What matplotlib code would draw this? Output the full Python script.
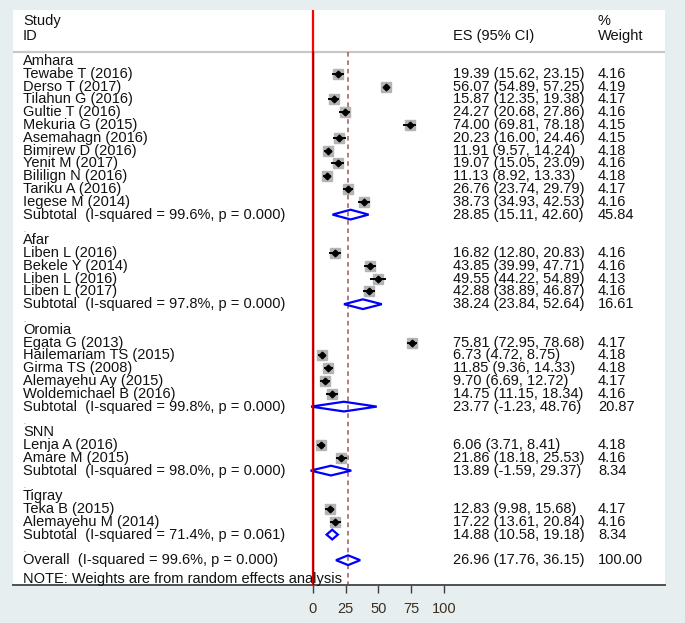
import matplotlib.pyplot as plt
from matplotlib.patches import Polygon

# ---- data ----
GROUPS = ["Amhara", "Afar", "Oromia", "SNN", "Tigray"]

STUDIES = [
    ["Tewabe T (2016)", "Derso T (2017)", "Tilahun G (2016)", "Gultie T (2016)",
     "Mekuria G (2015)", "Asemahagn (2016)", "Bimirew D (2016)", "Yenit M (2017)",
     "Bililign N (2016)", "Tariku A (2016)", "Iegese M (2014)"],
    ["Liben L (2016)", "Bekele Y (2014)", "Liben L (2016)", "Liben L (2017)"],
    ["Egata G (2013)", "Hailemariam TS (2015)", "Girma TS (2008)",
     "Alemayehu Ay (2015)", "Woldemichael B (2016)"],
    ["Lenja A (2016)", "Amare M (2015)"],
    ["Teka B (2015)", "Alemayehu M (2014)"],
]
ES = [
    [19.39, 56.07, 15.87, 24.27, 74.00, 20.23, 11.91, 19.07, 11.13, 26.76, 38.73],
    [16.82, 43.85, 49.55, 42.88],
    [75.81, 6.73, 11.85, 9.70, 14.75],
    [6.06, 21.86],
    [12.83, 17.22],
]
LOWER = [
    [15.62, 54.89, 12.35, 20.68, 69.81, 16.00, 9.57, 15.05, 8.92, 23.74, 34.93],
    [12.80, 39.99, 44.22, 38.89],
    [72.95, 4.72, 9.36, 6.69, 11.15],
    [3.71, 18.18],
    [9.98, 13.61],
]
UPPER = [
    [23.15, 57.25, 19.38, 27.86, 78.18, 24.46, 14.24, 23.09, 13.33, 29.79, 42.53],
    [20.83, 47.71, 54.89, 46.87],
    [78.68, 8.75, 14.33, 12.72, 18.34],
    [8.41, 25.53],
    [15.68, 20.84],
]
WEIGHTS = [
    [4.16, 4.19, 4.17, 4.16, 4.15, 4.15, 4.18, 4.16, 4.18, 4.17, 4.16],
    [4.16, 4.16, 4.13, 4.16],
    [4.17, 4.18, 4.18, 4.17, 4.16],
    [4.18, 4.16],
    [4.17, 4.16],
]

SUB_ES = [28.85, 38.24, 23.77, 13.89, 14.88]
SUB_LOWER = [15.11, 23.84, -1.23, -1.59, 10.58]
SUB_UPPER = [42.60, 52.64, 48.76, 29.37, 19.18]
SUB_WEIGHT = [45.84, 16.61, 20.87, 8.34, 8.34]
SUB_ISQ = [99.6, 97.8, 99.8, 98.0, 71.4]
SUB_P = [0.000, 0.000, 0.000, 0.000, 0.061]

OVERALL = (26.96, 17.76, 36.15, 100.00)
OVERALL_ISQ = 99.6
OVERALL_P = 0.000

XTICKS = [0, 25, 50, 75, 100]

# ---- layout (pixel geometry of the reference) ----
W, H = 685, 623
PANEL = (13, 10, 665, 585)          # left, top, right, bottom in pixels
X0_PX, PX_PER_UNIT = 312.7, 1.313    # position of x=0 and scale
ROW0_PX, ROW_PX = 61, 12.8           # first row and row spacing

BG = "#e6eef0"
FONT = "Liberation Sans"
FS = 10.5
DIAMOND_H = 0.38


def px_to_x(px):
    return (px - X0_PX) / PX_PER_UNIT


def px_to_row(py):
    return (py - ROW0_PX) / ROW_PX


def diamond(ax, row, es, lo, hi):
    pts = [(lo, row), (es, row - DIAMOND_H), (hi, row), (es, row + DIAMOND_H)]
    ax.add_patch(Polygon(pts, closed=True, fill=False, edgecolor="#0000ff",
                         linewidth=1.6, zorder=4))


def study_row(ax, row, es, lo, hi):
    ax.plot(es, row, marker="s", markersize=6.5, color="#b4b4b4", zorder=2)
    ax.plot([lo, hi], [row, row], color="black", linewidth=1.4, zorder=3)
    ax.plot(es, row, marker="D", markersize=3.4, color="black", zorder=3)


def main():
    plt.rcParams["font.family"] = [FONT, "DejaVu Sans"]
    fig = plt.figure(figsize=(W / 100, H / 100), dpi=100, facecolor=BG)
    l, t, r, b = PANEL
    ax = fig.add_axes([l / W, 1 - b / H, (r - l) / W, (b - t) / H])
    ax.set_facecolor("white")
    ax.set_xlim(px_to_x(l), px_to_x(r))
    ax.set_ylim(px_to_row(b), px_to_row(t))

    x_lab = px_to_x(23)
    x_es = px_to_x(453)
    x_wt = px_to_x(598)
    txt = dict(fontsize=FS, va="center", ha="left", color="#111111")

    # header
    ax.text(x_lab, px_to_row(21), "Study", **txt)
    ax.text(x_lab, px_to_row(36), "ID", **txt)
    ax.text(x_es, px_to_row(36), "ES (95% CI)", **txt)
    ax.text(x_wt, px_to_row(21), "%", **txt)
    ax.text(x_wt, px_to_row(36), "Weight", **txt)
    header_row = px_to_row(52)
    ax.axhline(header_row, color="#c8c8c8", linewidth=1.6, zorder=1)

    row = 0
    for g, name in enumerate(GROUPS):
        ax.text(x_lab, row, name, **txt)
        row += 1
        for i, study in enumerate(STUDIES[g]):
            es, lo, hi = ES[g][i], LOWER[g][i], UPPER[g][i]
            ax.text(x_lab, row, study, **txt)
            ax.text(x_es, row, f"{es:.2f} ({lo:.2f}, {hi:.2f})", **txt)
            ax.text(x_wt, row, f"{WEIGHTS[g][i]:.2f}", **txt)
            study_row(ax, row, es, lo, hi)
            row += 1
        ax.text(x_lab, row, f"Subtotal  (I-squared = {SUB_ISQ[g]:.1f}%, p = {SUB_P[g]:.3f})", **txt)
        ax.text(x_es, row, f"{SUB_ES[g]:.2f} ({SUB_LOWER[g]:.2f}, {SUB_UPPER[g]:.2f})", **txt)
        ax.text(x_wt, row, f"{SUB_WEIGHT[g]:.2f}", **txt)
        diamond(ax, row, SUB_ES[g], SUB_LOWER[g], SUB_UPPER[g])
        row += 1
        ax.text(x_lab, row + 0.25, ".", fontsize=5, ha="left", va="center", color="#555555")
        row += 1

    es, lo, hi, wt = OVERALL
    ax.text(x_lab, row, f"Overall  (I-squared = {OVERALL_ISQ:.1f}%, p = {OVERALL_P:.3f})", **txt)
    ax.text(x_es, row, f"{es:.2f} ({lo:.2f}, {hi:.2f})", **txt)
    ax.text(x_wt, row, f"{wt:.2f}", **txt)
    diamond(ax, row, es, lo, hi)
    ax.text(x_lab, row + 1.45, "NOTE: Weights are from random effects analysis", **txt)

    # reference lines
    ax.axvline(0, color="#ff0000", linewidth=1.6, zorder=5)
    ax.plot([0, 0], [header_row, px_to_row(b)], color="#6b0000", linewidth=1.0, zorder=6)
    ax.plot([es, es], [header_row, px_to_row(b)], color="#a0585a", linewidth=1.1,
            linestyle=(0, (3, 2.5)), zorder=1)

    # axes styling
    for side in ["top", "left", "right"]:
        ax.spines[side].set_visible(False)
    ax.spines["bottom"].set_color("#505050")
    ax.spines["bottom"].set_linewidth(1.4)
    ax.set_yticks([])
    ax.set_xticks(XTICKS)
    ax.set_xticklabels([str(v) for v in XTICKS])
    ax.tick_params(axis="x", direction="out", length=6, width=1.0, color="#404040",
                   labelsize=FS, labelcolor="#3b3020", pad=6)

    fig.savefig("out.png", dpi=100, facecolor=BG)
    plt.close(fig)


if __name__ == "__main__":
    main()
